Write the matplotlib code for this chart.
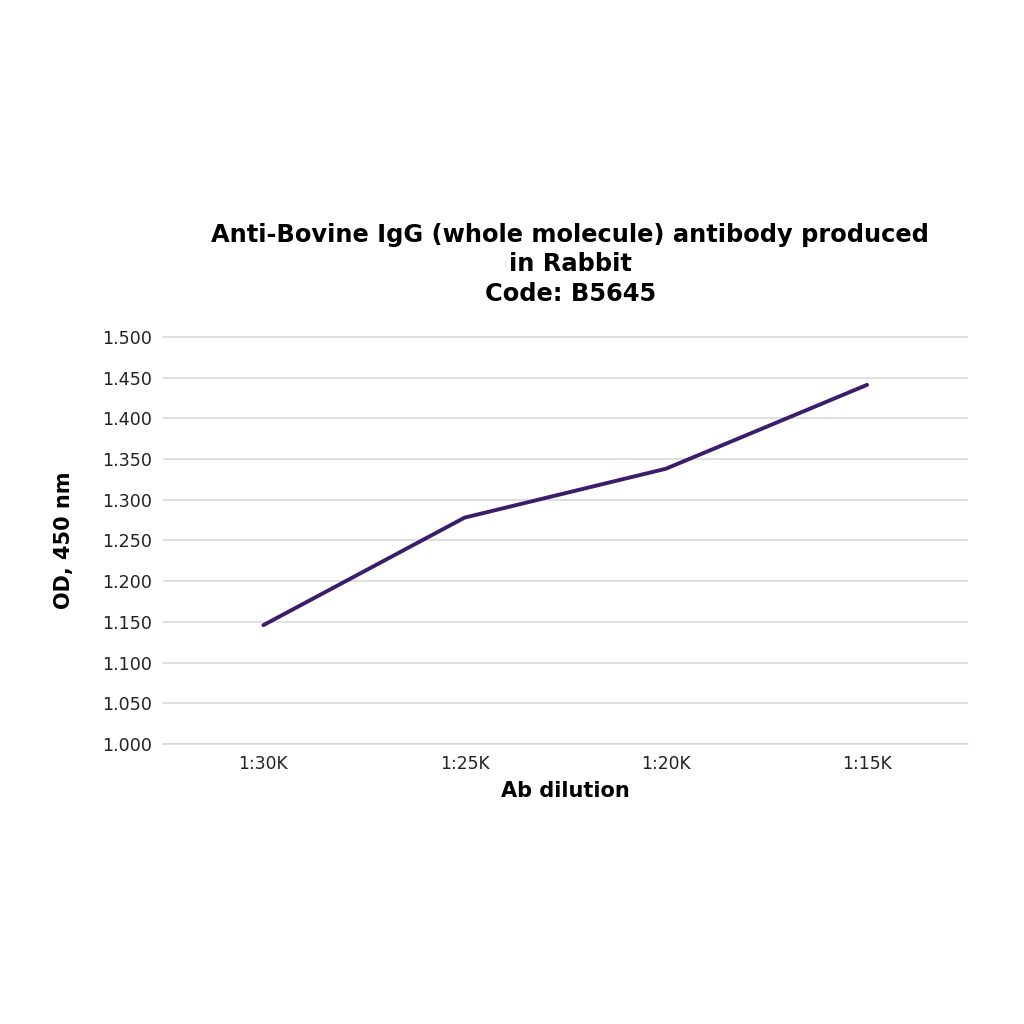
import matplotlib
matplotlib.use("Agg")
import matplotlib.pyplot as plt

dilutions = ["1:30K", "1:25K", "1:20K", "1:15K"]
od450 = [1.146, 1.278, 1.338, 1.441]
yticks = [1.0, 1.05, 1.1, 1.15, 1.2, 1.25, 1.3, 1.35, 1.4, 1.45, 1.5]

plt.rcParams['font.family'] = ['DejaVu Sans']

fig = plt.figure(figsize=(10.24, 10.24), dpi=100)
ax = fig.add_axes([0.159, 0.2734, 0.786, 0.3985])

x = range(len(dilutions))
ax.plot(x, od450, color='#3b1d6b', linewidth=2.8, solid_capstyle='round')

ax.set_xlim(-0.5, len(dilutions) - 0.5)
ax.set_ylim(1.0, 1.501)
ax.set_yticks(yticks)
ax.set_yticklabels(['%.3f' % v for v in yticks], fontsize=12.6)
ax.set_xticks(list(x))
ax.set_xticklabels(dilutions, fontsize=12.3)

ax.grid(axis='y', color='#d9d9d9', linewidth=1.2)
ax.set_axisbelow(True)
for s in ['top', 'right', 'left']:
    ax.spines[s].set_visible(False)
ax.spines['bottom'].set_color('#d9d9d9')
ax.spines['bottom'].set_linewidth(1.2)
ax.tick_params(length=0, pad=8, colors='#222222')

ax.set_ylabel('OD, 450 nm', fontsize=15, fontweight='bold', labelpad=20)
ax.set_xlabel('Ab dilution', fontsize=15, fontweight='bold', labelpad=6)

fig.text(0.557, 0.701, 'Anti-Bovine IgG (whole molecule) antibody produced\nin Rabbit\nCode: B5645',
         ha='center', va='bottom', fontsize=17.4, fontweight='bold', linespacing=1.3)

fig.savefig('out.png', dpi=100, facecolor='white')
